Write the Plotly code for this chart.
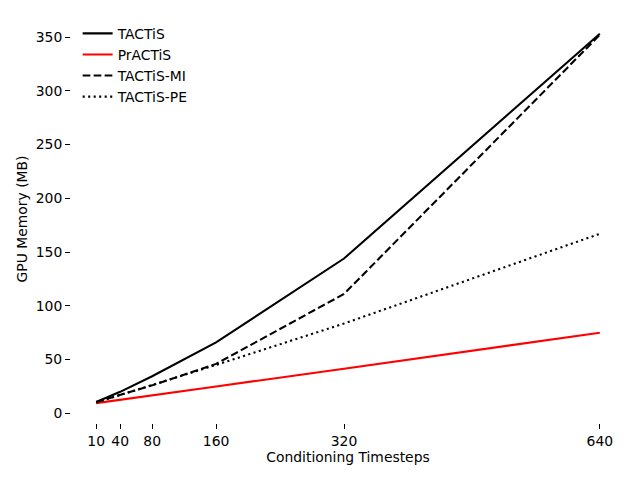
import plotly.graph_objects as go

timesteps = [10, 40, 80, 160, 320, 640]
tactis = [10.5, 20, 34.5, 66, 144, 353]
practis = [9.5, 12.5, 16.8, 25, 41.5, 75]
tactis_mi = [10.5, 17, 26, 46, 111, 352]
tactis_pe = [10, 17, 26, 45, 83.5, 167]
y_ticks = [0, 50, 100, 150, 200, 250, 300, 350]

font = dict(family="DejaVu Sans", size=13.9, color="black")

fig = go.Figure()
fig.add_trace(go.Scatter(x=timesteps, y=tactis, mode="lines", name="TACTiS",
                         line=dict(color="black", width=2.08)))
fig.add_trace(go.Scatter(x=timesteps, y=practis, mode="lines", name="PrACTiS",
                         line=dict(color="red", width=2.08)))
fig.add_trace(go.Scatter(x=timesteps, y=tactis_mi, mode="lines", name="TACTiS-MI",
                         line=dict(color="black", width=2.08, dash="7.7px,3.3px")))
fig.add_trace(go.Scatter(x=timesteps, y=tactis_pe, mode="lines", name="TACTiS-PE",
                         line=dict(color="black", width=2.08, dash="2.1px,3.4px")))

fig.update_layout(
    width=640, height=480,
    margin=dict(l=63, r=23, t=7, b=65),
    paper_bgcolor="white", plot_bgcolor="white",
    font=font,
    showlegend=True,
    legend=dict(x=0.012, y=0.993, xanchor="left", yanchor="top",
                bgcolor="rgba(0,0,0,0)", borderwidth=0,
                font=font, tracegroupgap=0),
    xaxis=dict(range=[-21.5, 671.5], tickvals=timesteps,
               ticktext=[str(t) for t in timesteps],
               showgrid=False, zeroline=False, showline=False,
               ticks="outside", ticklen=5, tickwidth=1.1, tickcolor="black",
               title=dict(text="Conditioning Timesteps", font=font, standoff=4)),
    yaxis=dict(range=[-9, 370.5], tickvals=y_ticks,
               showgrid=False, zeroline=False, showline=False,
               ticks="outside", ticklen=5, tickwidth=1.1, tickcolor="black",
               title=dict(text="GPU Memory (MB)", font=font, standoff=4)),
)

fig.write_html("out.html")
